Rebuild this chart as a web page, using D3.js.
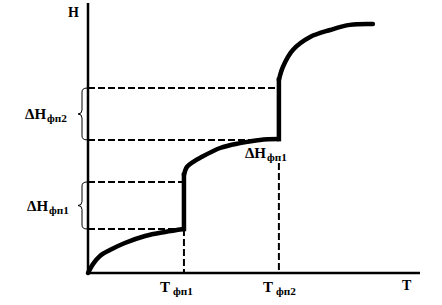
<!DOCTYPE html>
<html><head><meta charset="utf-8">
<script src="https://cdn.jsdelivr.net/npm/d3@7"></script>
<style>body{margin:0;background:#fff}svg{display:block}</style>
</head><body><svg id="c" width="442" height="305"></svg>
<script>
// Data (T, H in arbitrary units)
const seg1T = [0, 0.15, 0.36, 0.66, 1.11, 1.72, 2.32, 2.89];
const seg1H = [0, 0.33, 0.63, 0.85, 1.11, 1.37, 1.52, 1.63];
const seg2T = [2.89, 2.98, 3.16, 3.37, 3.98, 4.58, 5.18, 5.75];
const seg2H = [3.63, 3.93, 4.11, 4.26, 4.63, 4.81, 4.93, 4.96];
const seg3T = [5.75, 5.87, 6.17, 6.69, 7.29, 7.89, 8.58];
const seg3H = [7.15, 7.63, 8.26, 8.74, 9.00, 9.19, 9.22];
const transT = [2.89, 5.75];            // Tфп1, Tфп2
const dH1 = [1.63, 3.37];               // ΔHфп1 bounds
const dH2 = [4.93, 6.85];               // ΔHфп2 bounds
const tDashTop = [1.63, 4.07];          // top of vertical dashed lines

const svg = d3.select("#c");
const x = d3.scaleLinear().domain([0, 10]).range([88, 420]);
const y = d3.scaleLinear().domain([0, 10]).range([273, 3]);
const font = "'Liberation Serif', 'Times New Roman', serif";

// dashed helper lines
const dash = svg.append("g").attr("stroke", "#000").attr("stroke-width", 2).attr("stroke-dasharray", "7,3").attr("fill", "none");
[[dH1[0], transT[0]], [dH1[1], transT[0]], [dH2[0], transT[1]], [dH2[1], transT[1]]].forEach(([h, t]) => {
  dash.append("line").attr("x1", x(0)).attr("x2", x(t)).attr("y1", y(h)).attr("y2", y(h));
});
transT.forEach((t, i) => {
  dash.append("line").attr("x1", x(t)).attr("x2", x(t)).attr("y1", y(tDashTop[i])).attr("y2", y(0));
});

// axes
svg.append("line").attr("x1", x(0)).attr("x2", x(0)).attr("y1", y(10)).attr("y2", y(0) + 2).attr("stroke", "#000").attr("stroke-width", 2.5);
svg.append("line").attr("x1", x(0)).attr("x2", x(10)).attr("y1", y(0)).attr("y2", y(0)).attr("stroke", "#000").attr("stroke-width", 2.5);

// curve
const line = d3.line().x(d => x(d[0])).y(d => y(d[1])).curve(d3.curveCatmullRom.alpha(0.5));
const curveG = svg.append("g").attr("stroke", "#000").attr("stroke-width", 4.5).attr("fill", "none").attr("stroke-linecap", "round").attr("stroke-linejoin", "round");
[[seg1T, seg1H], [seg2T, seg2H], [seg3T, seg3H]].forEach(([ts, hs]) => {
  curveG.append("path").attr("d", line(ts.map((t, i) => [t, hs[i]])));
});
// vertical jumps
curveG.append("line").attr("x1", x(transT[0])).attr("x2", x(transT[0])).attr("y1", y(seg1H[seg1H.length - 1])).attr("y2", y(seg2H[0])).attr("stroke-linecap", "square");
curveG.append("line").attr("x1", x(transT[1])).attr("x2", x(transT[1])).attr("y1", y(seg2H[seg2H.length - 1])).attr("y2", y(seg3H[0])).attr("stroke-linecap", "square");

// braces
function brace(y0, y1, xr) {
  const m = (y0 + y1) / 2, xm = xr - 5, xt = xr - 9;
  return `M${xr},${y0} Q${xm},${y0} ${xm},${y0 + 4} L${xm},${m - 4} Q${xm},${m} ${xt},${m} Q${xm},${m} ${xm},${m + 4} L${xm},${y1 - 4} Q${xm},${y1} ${xr},${y1}`;
}
svg.append("path").attr("d", brace(y(dH2[1]), y(dH2[0]), x(0) - 1)).attr("fill", "none").attr("stroke", "#000").attr("stroke-width", 1);
svg.append("path").attr("d", brace(y(dH1[1]), y(dH1[0]), x(0) - 1)).attr("fill", "none").attr("stroke", "#000").attr("stroke-width", 1);

// labels
function label(xp, yp, main, sub, size) {
  const t = svg.append("text").attr("x", xp).attr("y", yp).attr("font-family", font).attr("font-weight", "bold").attr("font-size", size).attr("fill", "#000");
  t.append("tspan").text(main);
  if (sub) t.append("tspan").attr("font-size", size * 0.75).attr("dy", 3).attr("dx", main === "T" ? 3 : 1).text(sub);
  return t;
}
label(x(0) - 20, 17, "H", null, 14);
label(x(10) - 18, 290, "T", null, 14);
label(x(transT[0]) - 24, 292, "T", "фп1", 15);
label(x(transT[1]) - 16, 292, "T", "фп2", 15);
label(25, (y(dH2[0]) + y(dH2[1])) / 2 + 5, "ΔH", "фп2", 15);
label(27, (y(dH1[0]) + y(dH1[1])) / 2 + 5, "ΔH", "фп1", 15);
label(x(transT[1]) - 34, 158, "ΔH", "фп1", 15);
</script></body></html>
